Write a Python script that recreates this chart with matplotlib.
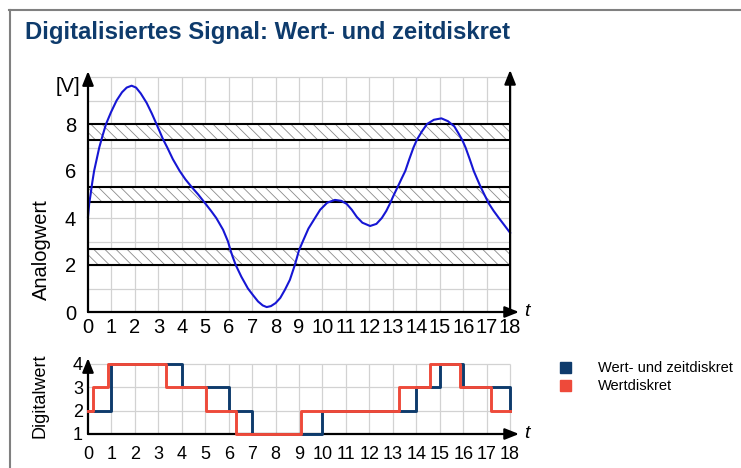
import matplotlib
matplotlib.use('Agg')
import matplotlib.pyplot as plt
from matplotlib.patches import Rectangle
from matplotlib.lines import Line2D

plt.rcParams['font.family'] = ['Liberation Sans', 'DejaVu Sans']
plt.rcParams['hatch.linewidth'] = 0.6

# ---- Daten ----
# Analogsignal
analog_t = [0.0, 0.05, 0.11, 0.18, 0.26, 0.37, 0.48, 0.62, 0.77, 0.98, 1.22, 1.45,
            1.65, 1.86, 2.05, 2.25, 2.5, 2.72, 2.92, 3.2, 3.38, 3.62, 3.91, 4.15,
            4.41, 4.7, 5.0, 5.25, 5.47, 5.76, 5.97, 6.07, 6.17, 6.3, 6.54, 6.82,
            7.05, 7.25, 7.45, 7.62, 7.8, 8.0, 8.2, 8.4, 8.61, 8.82, 9.0, 9.18,
            9.4, 9.68, 9.9, 10.2, 10.53, 10.8, 11.03, 11.25, 11.46, 11.7, 12.03,
            12.3, 12.53, 12.72, 12.88, 13.05, 13.21, 13.37, 13.53, 13.7, 13.88,
            14.03, 14.25, 14.46, 14.75, 15.07, 15.35, 15.62, 15.8, 15.95, 16.1,
            16.28, 16.45, 16.6, 16.74, 16.9, 17.09, 17.3, 17.52, 17.75, 18.0]
analog_v = [4.05, 4.6, 5.0, 5.5, 6.0, 6.5, 7.0, 7.5, 8.0, 8.5, 9.0, 9.35,
            9.55, 9.63, 9.55, 9.3, 8.9, 8.45, 8.0, 7.35, 7.0, 6.5, 6.0, 5.65,
            5.33, 5.0, 4.62, 4.3, 4.0, 3.5, 3.0, 2.65, 2.35, 2.0, 1.5, 1.0,
            0.7, 0.45, 0.28, 0.21, 0.25, 0.38, 0.6, 0.95, 1.37, 2.0, 2.63, 3.05,
            3.55, 4.0, 4.35, 4.65, 4.77, 4.73, 4.6, 4.35, 4.05, 3.8, 3.66,
            3.75, 4.0, 4.3, 4.62, 5.0, 5.33, 5.67, 6.0, 6.5, 7.0,
            7.34, 7.7, 8.0, 8.18, 8.24, 8.12, 7.9, 7.6, 7.34, 7.0,
            6.5, 6.0, 5.65, 5.33, 5.0, 4.62, 4.3, 4.0, 3.7, 3.37]

# schraffierte Übergangsbereiche
band_lo = [2.0, 4.67, 7.33]
band_hi = [2.67, 5.33, 8.0]

# wert- und zeitdiskret (Abtastung bei ganzen t)
sample_t = list(range(19))
sample_v = [2, 4, 4, 4, 3, 3, 2, 1, 1, 1, 2, 2, 2, 2, 3, 4, 3, 3, 2]

# wertdiskret (Umschaltzeitpunkte)
wert_t = [0, 0.23, 0.85, 3.33, 5.03, 6.31, 9.07, 13.28, 14.58, 15.86, 17.17, 18]
wert_v = [2, 3, 4, 3, 2, 1, 2, 3, 4, 3, 2, 2]

x_ticks = list(range(19))
top_yticks = [0, 2, 4, 6, 8]
bot_yticks = [1, 2, 3, 4]

BLUE_A = '#1616d4'
NAVY = '#0e3b6c'
RED = '#ee4a3a'
GRID = '#d2d2d2'

W, H = 741, 468
UX, UY = 23.45, 23.5
fig = plt.figure(figsize=(W / 100, H / 100), dpi=100)


def make_axes(x0, y0, xr, yr):
    # x0, y0 = Pixelposition des Ursprungs (von oben links)
    ax = fig.add_axes([x0 / W, (H - y0) / H,
                       (xr[1] - xr[0]) * UX / W, (yr[1] - yr[0]) * UY / H])
    ax.set_xlim(*xr)
    ax.set_ylim(*yr)
    ax.patch.set_alpha(0)
    for s in ax.spines.values():
        s.set_visible(False)
    return ax


def arrow(ax, x0, y0, x1, y1):
    ax.annotate('', xy=(x1, y1), xytext=(x0, y0), annotation_clip=False,
                arrowprops=dict(arrowstyle='-|>,head_length=0.7,head_width=0.28',
                                color='k', lw=1.6, shrinkA=0, shrinkB=0,
                                mutation_scale=12), zorder=5)


# ==========================================
# oben: Analogwert
# ==========================================
ax1 = make_axes(88, 312, (0, 18), (0, 10))
ax1.vlines(x_ticks[1:-1], 0, 10, color=GRID, lw=0.9, zorder=0, clip_on=False)
ax1.hlines(range(1, 11), 0, 18, color=GRID, lw=0.9, zorder=0, clip_on=False)

for lo, hi in zip(band_lo, band_hi):
    ax1.fill_between([0, 18], lo, hi, facecolor='white', edgecolor='#8a8a8a',
                     hatch='\\\\\\', linewidth=0, zorder=1)
    ax1.hlines([lo, hi], 0, 18, color='k', lw=1.5, zorder=2)

ax1.plot(analog_t, analog_v, color=BLUE_A, lw=1.5, zorder=3, clip_on=False,
         solid_joinstyle='round')

arrow(ax1, 0, 0, 0, 10.25)
arrow(ax1, 18, 0, 18, 10.3)
arrow(ax1, 0, 0, 18.38, 0)
ax1.text(18.72, 0, 't', fontsize=14, fontstyle='italic', ha='center', va='center')
ax1.text(-0.35, 9.6, '[V]', fontsize=14.5, ha='right', va='center')

ax1.set_xticks(x_ticks)
ax1.set_xticklabels([str(x) for x in x_ticks])
ax1.set_yticks(top_yticks)
ax1.set_yticklabels([str(y) for y in top_yticks])
ax1.tick_params(axis='x', length=0, pad=4.3, labelsize=14.5)
ax1.tick_params(axis='y', length=0, pad=8.6, labelsize=14.5)

# ==========================================
# unten: Digitalwert
# ==========================================
ax2 = make_axes(88, 434, (0, 18), (1, 4))
ax2.vlines(x_ticks[1:], 1, 4, color=GRID, lw=0.9, zorder=0, clip_on=False)
ax2.hlines([2, 3, 4], 0, 18, color=GRID, lw=0.9, zorder=0, clip_on=False)

arrow(ax2, 0, 1, 0, 4.23)
arrow(ax2, 0, 1, 18.38, 1)
ax2.text(18.72, 1, 't', fontsize=14, fontstyle='italic', ha='center', va='center')

ax2.step(sample_t, sample_v, where='post', color=NAVY, lw=2.1, zorder=6, clip_on=False)
ax2.step(wert_t, wert_v, where='post', color=RED, lw=2.1, zorder=7, clip_on=False)

ax2.set_xticks(x_ticks)
ax2.set_xticklabels([str(x) for x in x_ticks])
ax2.set_yticks(bot_yticks)
ax2.set_yticklabels([str(y) for y in bot_yticks])
ax2.tick_params(axis='x', length=0, pad=8.6, labelsize=13)
ax2.tick_params(axis='y', length=0, pad=3.6, labelsize=13)

# Achsenbeschriftungen
fig.text(41 / W, 1 - 250 / H, 'Analogwert', rotation=90, fontsize=14.5, ha='center', va='center')
fig.text(40 / W, 1 - 396 / H, 'Digitalwert', rotation=90, fontsize=13, ha='center', va='center')

# Titel
fig.text(25 / W, 1 - 39.5 / H, 'Digitalisiertes Signal: Wert- und zeitdiskret',
         fontsize=17.2, fontweight='bold', color=NAVY, va='baseline')

# Legende
for lab, col, yc in [('Wert- und zeitdiskret', NAVY, 367.5), ('Wertdiskret', RED, 385.5)]:
    fig.add_artist(Rectangle((560 / W, 1 - (yc + 5.5) / H), 11 / W, 11 / H,
                             transform=fig.transFigure, color=col))
    fig.text(598 / W, 1 - yc / H, lab, fontsize=10.5, va='center')

# Rahmen
fig.add_artist(Line2D([9 / W, 1], [1 - 10 / H, 1 - 10 / H], color='#808080', lw=1.5,
                      transform=fig.transFigure))
fig.add_artist(Line2D([10 / W, 10 / W], [0, 1 - 10 / H], color='#808080', lw=1.5,
                      transform=fig.transFigure))

fig.savefig('out.png', dpi=100)
